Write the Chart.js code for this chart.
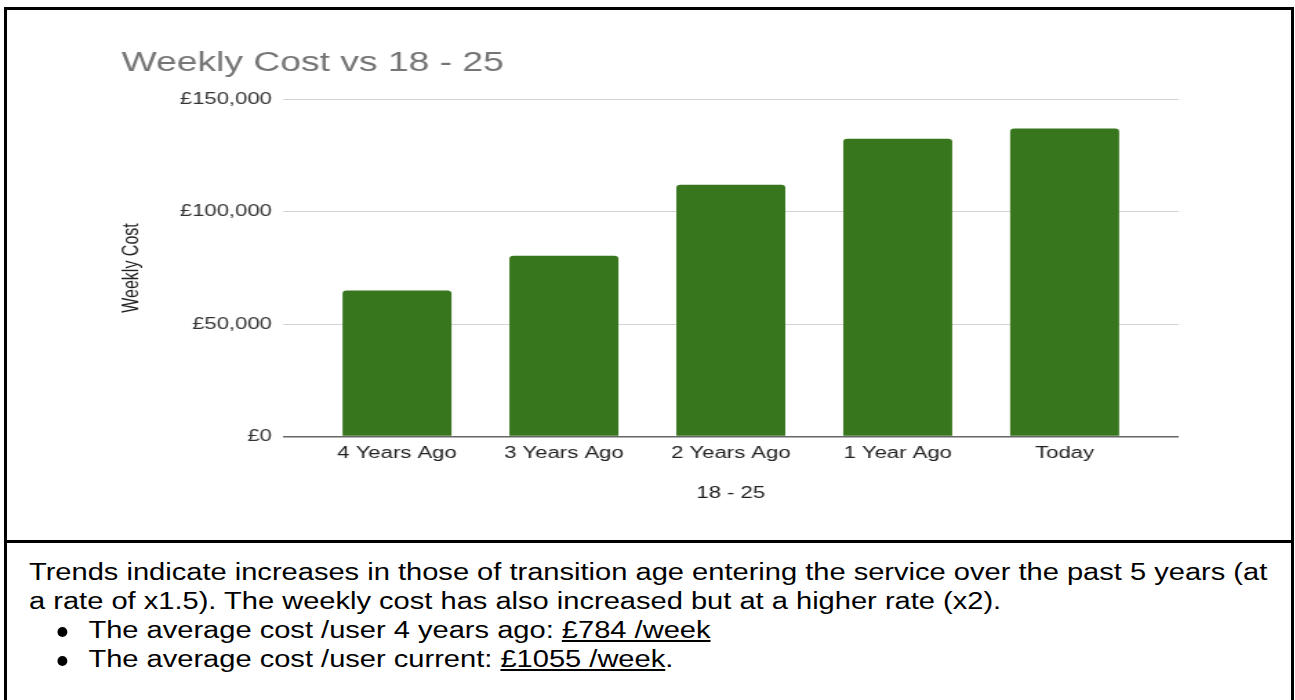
<!DOCTYPE html>
<html>
<head>
<meta charset="utf-8">
<title>Weekly Cost vs 18 - 25</title>
<script src="https://cdn.jsdelivr.net/npm/chart.js@4.4.1/dist/chart.umd.min.js"></script>
<style>
    html, body { margin: 0; padding: 0; background: #fff; }
    body {
        width: 1295px;
        height: 700px;
        position: relative;
        overflow: hidden;
        font-family: 'Liberation Sans', Arial, sans-serif;
    }
    /* table cell borders */
    .frame {
        position: absolute;
        left: 4px;
        top: 7px;
        width: 1284px;
        height: 720px;
        border: 3px solid #000;
    }
    .divider {
        position: absolute;
        left: 4px;
        top: 540px;
        width: 1290px;
        height: 3px;
        background: #000;
    }
    /* the chart image sits stretched across the cell */
    .chart-box {
        position: absolute;
        left: 7px;
        top: 10px;
        width: 930px;
        height: 530px;
        transform: scaleX(1.38);
        transform-origin: 0 0;
    }
    .notes {
        position: absolute;
        left: 29px;
        top: 558px;
        font-size: 23.5px;
        line-height: 29px;
        color: #000;
        white-space: nowrap;
        transform: scaleX(1.237);
        transform-origin: 0 0;
    }
    .notes .item {
        position: relative;
        padding-left: 48px;
    }
    .notes .item::before {
        content: '';
        position: absolute;
        left: 23px;
        top: 11px;
        width: 8px;
        height: 10px;
        border-radius: 50%;
        background: #000;
    }
</style>
</head>
<body>
<div class="frame"></div>
<div class="divider"></div>
<div class="chart-box"><canvas id="costChart"></canvas></div>
<div class="notes">
    <div>Trends indicate increases in those of transition age entering the service over the past 5 years (at</div>
    <div>a rate of x1.5). The weekly cost has also increased but at a higher rate (x2).</div>
    <div class="item">The average cost /user 4 years ago: <u>£784 /week</u></div>
    <div class="item">The average cost /user current: <u>£1055 /week</u>.</div>
</div>
<script>
// Weekly cost per period for the 18 - 25 group
const categories = ['4 Years Ago', '3 Years Ago', '2 Years Ago', '1 Year Ago', 'Today'];
const weeklyCost = [65000, 80500, 112000, 132500, 137000];
const yTicks = [0, 50000, 100000, 150000];

// space left either side of the first and last bar, in category units
const xPad = 0.683;

document.addEventListener('DOMContentLoaded', function() {
    Chart.defaults.font.family = "'Liberation Sans', Arial, sans-serif";

    const ctx = document.getElementById('costChart').getContext('2d');
    new Chart(ctx, {
        type: 'bar',
        data: {
            datasets: [{
                label: 'Weekly Cost',
                data: categories.map((c, i) => ({ x: i, y: weeklyCost[i] })),
                backgroundColor: '#38761d',
                borderRadius: { topLeft: 3, topRight: 3 },
                borderSkipped: 'start',
                barPercentage: 0.653,
                categoryPercentage: 1
            }]
        },
        options: {
            responsive: true,
            maintainAspectRatio: false,
            animation: false,
            layout: {
                padding: { left: 83, right: 81, top: 0, bottom: 20 }
            },
            plugins: {
                legend: { display: false },
                tooltip: { enabled: false },
                title: {
                    display: true,
                    text: 'Weekly Cost vs 18 - 25',
                    align: 'start',
                    color: '#757575',
                    font: { size: 27, weight: 'normal' },
                    padding: { top: 37, bottom: 20 }
                }
            },
            scales: {
                x: {
                    type: 'linear',
                    offset: false,
                    min: -xPad,
                    max: categories.length - 1 + xPad,
                    grid: { display: false, drawTicks: false },
                    border: { display: false },
                    afterBuildTicks: function(scale) {
                        scale.ticks = categories.map((c, i) => ({ value: i }));
                    },
                    ticks: {
                        callback: v => categories[v],
                        color: '#222',
                        font: { size: 16 },
                        padding: 7,
                        maxRotation: 0,
                        autoSkip: false
                    },
                    title: {
                        display: true,
                        text: '18 - 25',
                        color: '#222',
                        font: { size: 16 },
                        padding: { top: 14, bottom: 17 }
                    }
                },
                y: {
                    min: 0,
                    max: 150000,
                    afterBuildTicks: function(scale) {
                        scale.ticks = yTicks.map(v => ({ value: v }));
                    },
                    afterFit: function(scale) {
                        scale.width = 117;
                    },
                    grid: {
                        color: c => c.tick.value === 0 ? '#666' : '#d4d4d4',
                        lineWidth: c => c.tick.value === 0 ? 1.5 : 1,
                        drawTicks: false
                    },
                    border: { display: false },
                    ticks: {
                        callback: v => '£' + v.toLocaleString('en-GB'),
                        color: '#333',
                        font: { size: 16 },
                        padding: 8
                    },
                    title: {
                        display: true,
                        text: 'Weekly Cost',
                        color: '#222',
                        font: { size: 16, lineHeight: 1 },
                        padding: 0
                    }
                }
            }
        }
    });
});
</script>
</body>
</html>
